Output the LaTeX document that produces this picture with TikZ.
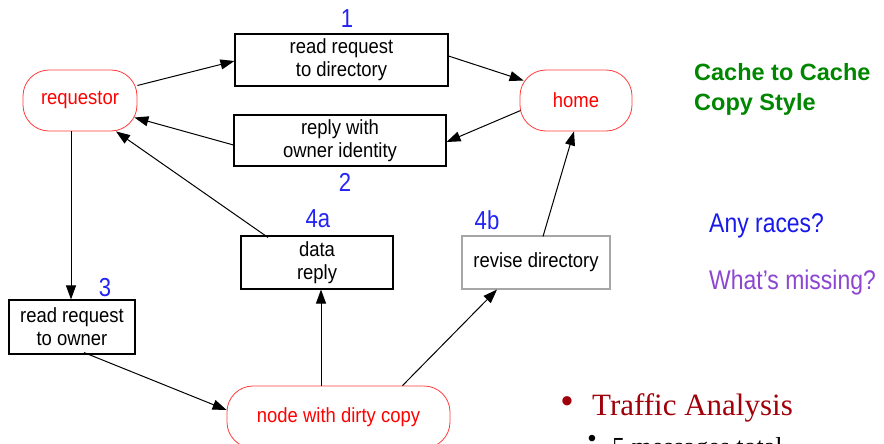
\documentclass[tikz,border=0pt]{standalone}
\usepackage{fontspec}
\setmainfont{Liberation Sans}
\newfontfamily\narrowfont[FakeStretch=0.85]{Liberation Sans}
\newfontfamily\boxfont[FakeStretch=0.9]{Liberation Sans}
\newfontfamily\serifont{Liberation Serif}
\usetikzlibrary{arrows.meta}
\definecolor{numblue}{RGB}{35,35,245}
\definecolor{titlegreen}{RGB}{0,135,0}
\definecolor{raceblue}{RGB}{25,25,235}
\definecolor{misspurple}{RGB}{140,70,210}
\definecolor{darkred}{RGB}{160,0,10}
\definecolor{nodered}{RGB}{255,60,60}
\begin{document}
\begin{tikzpicture}[x=1pt,y=-1pt,
  box/.style={draw, line width=1.1pt, inner sep=0pt, align=center, font=\boxfont\fontsize{20.5}{23}\selectfont},
  rnode/.style={draw=nodered, line width=0.8pt, rounded corners=26pt, inner sep=0pt, text=red, font=\boxfont\fontsize{20.5}{23}\selectfont},
  arr/.style={-{Triangle[length=14pt,width=10pt]}, line width=1pt},
  num/.style={text=numblue, inner sep=0pt, font=\narrowfont\fontsize{26}{28}\selectfont},
  side/.style={inner sep=0pt, anchor=west, font=\narrowfont\fontsize{27}{30}\selectfont}]
\useasboundingbox (0,0) rectangle (884,444);
\clip (0,0) rectangle (884,444);
\fill[white] (0,0) rectangle (884,444);
% nodes
\node[rnode, minimum width=114pt, minimum height=61pt] (req) at (80,100.5) {requestor};
\node[rnode, minimum width=112pt, minimum height=61pt] (home) at (576,100.5) {home};
\node[rnode, minimum width=223pt, minimum height=62pt] (dirty) at (338.5,417) {node with dirty copy};
\node[box, minimum width=213pt, minimum height=52pt] (b1) at (341.5,60) {read request\\ to directory};
\node[box, minimum width=212pt, minimum height=51pt] (b2) at (340,140.5) {reply with\\owner identity};
\node[box, minimum width=152pt, minimum height=53pt] (b4a) at (317,262.5) {data\\reply};
\node[box, draw=gray!70, minimum width=148pt, minimum height=53pt] (b4b) at (536,262.5) {revise directory};
\node[box, minimum width=126pt, minimum height=54pt] (b3) at (72,327) {read request\\ to owner};
% numbers
\node[num] (n1) at (347,19) {1};
\node[num] (n2) at (345,182) {2};
\node[num] (n3) at (105,288) {3};
\node[num] (n4a) at (318,219) {4a};
\node[num] (n4b) at (487,220) {4b};
% side texts
\node[inner sep=0pt, anchor=west, align=left, text=titlegreen, font=\bfseries\fontsize{23.5}{30}\selectfont] (title) at (694,89) {Cache to Cache\\Copy Style};
\node[side, text=raceblue] (races) at (709,226) {Any races?};
\node[side, text=misspurple] (missing) at (709,283) {What’s missing?};
\node[inner sep=0pt, anchor=base west, text=darkred, font=\serifont\fontsize{31}{34}\selectfont] (traffic) at (592,415) {Traffic Analysis};
\node[inner sep=0pt, text=darkred, font=\fontsize{34}{34}\selectfont] (bul1) at (567,405) {•};
\node[inner sep=0pt, anchor=base west, font=\serifont\fontsize{26}{30}\selectfont] (msgs) at (612,455) {5 messages total};
\node[inner sep=0pt, font=\fontsize{24}{24}\selectfont] (bul2) at (592,441) {•};
% connectors
\draw[arr] ([yshift=15pt]req.east) -- ([yshift=-1pt]b1.west);
\draw[arr] ([yshift=4pt]b1.east) -- ([xshift=4pt,yshift=20pt]home.west);
\draw[arr] ([xshift=1pt,yshift=-10pt]home.west) -- ([yshift=-1.5pt]b2.east);
\draw[arr] ([yshift=-4.5pt]b2.west) -- ([xshift=-3pt,yshift=-17pt]req.east);
\draw[arr] ([xshift=-49pt,yshift=-2pt]b4a.north) -- ([xshift=36pt]req.south);
\draw[arr] ([xshift=-9pt]req.south) -- ([xshift=-1pt]b3.north);
\draw[arr] ([xshift=12pt,yshift=2pt]b3.south) -- ([yshift=7pt]dirty.west);
\draw[arr] ([xshift=-17.5pt]dirty.north) -- ([xshift=4pt]b4a.south);
\draw[arr] ([xshift=64pt]dirty.north) -- ([xshift=-39pt]b4b.south);
\draw[arr] ([xshift=7pt,yshift=-1pt]b4b.north) -- ([xshift=-2pt]home.south);
\end{tikzpicture}
\end{document}
